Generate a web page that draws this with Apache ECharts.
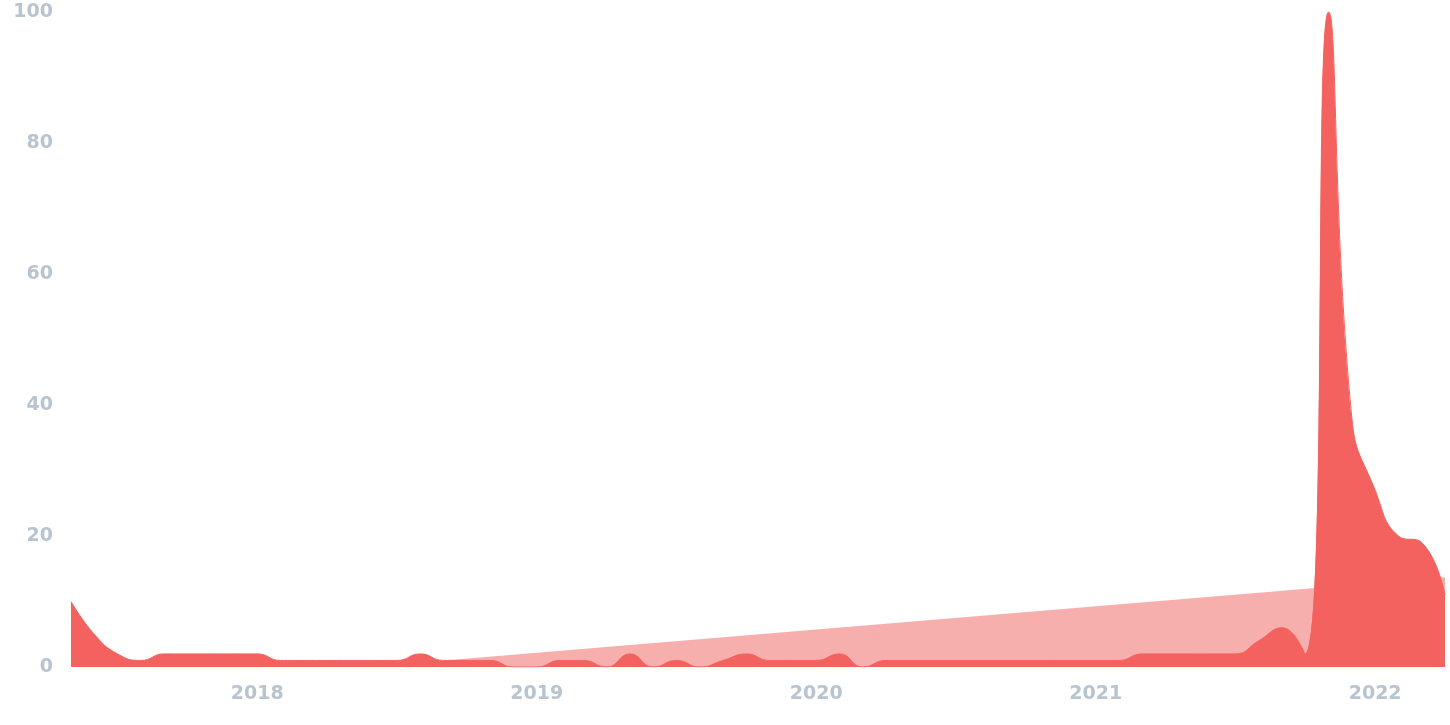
<!DOCTYPE html>
<html>
<head>
<meta charset="utf-8">
<script src="https://cdn.jsdelivr.net/npm/echarts@6/dist/echarts.min.js"></script>
<style>
html,body{margin:0;padding:0;background:#fff;}
#chart{width:1450px;height:725px;}
</style>
</head>
<body>
<div id="chart"></div>
<script>
// Monthly categories, May 2017 .. Apr 2022
const months = [
  '2017-05','2017-06','2017-07','2017-08','2017-09','2017-10','2017-11','2017-12',
  '2018-01','2018-02','2018-03','2018-04','2018-05','2018-06','2018-07','2018-08','2018-09','2018-10','2018-11','2018-12',
  '2019-01','2019-02','2019-03','2019-04','2019-05','2019-06','2019-07','2019-08','2019-09','2019-10','2019-11','2019-12',
  '2020-01','2020-02','2020-03','2020-04','2020-05','2020-06','2020-07','2020-08','2020-09','2020-10','2020-11','2020-12',
  '2021-01','2021-02','2021-03','2021-04','2021-05','2021-06','2021-07','2021-08','2021-09','2021-10','2021-11','2021-12',
  '2022-01','2022-02','2022-03','2022-04'
];
// Interest values
const interest = [
  10, 5, 2, 1, 2, 2, 2, 2,
  2, 1, 1, 1, 1, 1, 1, 2, 1, 1, 1, 0,
  0, 1, 1, 0, 2, 0, 1, 0, 1, 2, 1, 1,
  1, 2, 0, 1, 1, 1, 1, 1, 1, 1, 1, 1,
  1, 1, 2, 2, 2, 2, 2, 4, 6, 2, 100, 38,
  27, 20, 19, 11
];
// Trend line: start and end points only (nulls are connected)
const trend = [
  null, null, null, null, null, null, null, null,
  null, null, null, null, null, null, null, null, 1.0, null, null, null,
  null, null, null, null, null, null, null, null, null, null, null, null,
  null, null, null, null, null, null, null, null, null, null, null, null,
  null, null, null, null, null, null, null, null, null, null, null, null,
  null, null, null, 13.7
];
const yTicks = [0, 20, 40, 60, 80, 100];

const labelColor = '#b8c4d0';
const labelFont = {
  color: labelColor,
  fontFamily: 'DejaVu Sans',
  fontWeight: 'bold',
  fontSize: 19
};
const chart = echarts.init(document.getElementById('chart'), null, {renderer: 'canvas'});
chart.setOption({
  animation: false,
  backgroundColor: '#ffffff',
  grid: {left: 71, right: 5, top: 12, bottom: 58, containLabel: false},
  xAxis: {
    type: 'category',
    data: months,
    boundaryGap: false,
    axisLine: {show: false},
    axisTick: {show: false},
    splitLine: {show: false},
    axisLabel: Object.assign({
      interval: function (i, v) { return v.slice(5) === '01'; },
      formatter: function (v) { return v.slice(0, 4); },
      margin: 18
    }, labelFont)
  },
  yAxis: {
    type: 'value',
    min: yTicks[0],
    max: yTicks[yTicks.length - 1],
    interval: 20,
    axisLine: {show: false},
    axisTick: {show: false},
    splitLine: {show: false},
    axisLabel: Object.assign({margin: 18}, labelFont)
  },
  series: [
    {
      type: 'line',
      data: trend,
      connectNulls: true,
      symbol: 'none',
      lineStyle: {width: 0, color: '#f7afad'},
      areaStyle: {color: '#f7afad', opacity: 1},
      z: 1
    },
    {
      type: 'line',
      data: interest,
      smooth: true,
      symbol: 'none',
      lineStyle: {width: 1, color: '#f3625e'},
      areaStyle: {color: '#f3625e', opacity: 1},
      z: 2
    }
  ]
});
</script>
</body>
</html>
